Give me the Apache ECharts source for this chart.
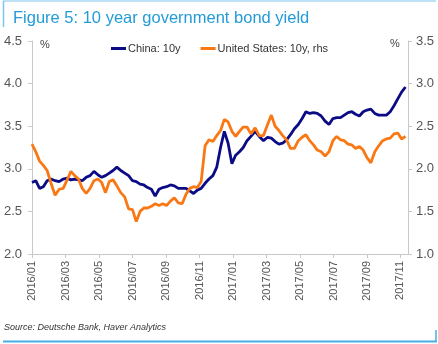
<!DOCTYPE html>
<html><head><meta charset="utf-8">
<script src="https://cdn.jsdelivr.net/npm/echarts@6/dist/echarts.min.js"></script>
<style>html,body{margin:0;padding:0;background:#fff}#c{width:438px;height:344px}</style>
</head><body><div id="c"></div>
<script>
// Weekly observations starting 2016-01-01
const startDate = '2016-01-01';
const weekCount = 98;
const chinaYield = [2.84,2.86,2.77,2.79,2.86,2.88,2.86,2.85,2.88,2.89,2.87,2.88,2.87,2.86,2.90,2.92,2.97,2.93,2.90,2.92,
2.95,2.98,3.02,2.98,2.95,2.92,2.86,2.85,2.82,2.81,2.78,2.76,2.68,2.76,2.78,2.79,2.81,2.80,2.77,2.77,
2.77,2.74,2.71,2.75,2.77,2.83,2.88,2.92,3.02,3.25,3.44,3.30,3.06,3.16,3.20,3.25,3.33,3.38,3.44,3.38,
3.33,3.37,3.36,3.32,3.29,3.30,3.34,3.40,3.47,3.52,3.59,3.67,3.65,3.66,3.65,3.62,3.56,3.52,3.59,3.60,
3.60,3.63,3.66,3.67,3.64,3.62,3.67,3.69,3.70,3.65,3.63,3.63,3.63,3.67,3.74,3.82,3.90,3.96];
const usYield = [2.29,2.20,2.09,2.04,1.98,1.83,1.69,1.76,1.77,1.87,1.97,1.92,1.88,1.77,1.71,1.77,1.86,1.88,1.84,1.72,
1.85,1.87,1.80,1.72,1.67,1.53,1.52,1.38,1.50,1.54,1.54,1.56,1.59,1.57,1.59,1.57,1.62,1.66,1.60,1.59,
1.70,1.77,1.79,1.78,1.85,2.27,2.34,2.32,2.39,2.45,2.58,2.55,2.44,2.38,2.44,2.49,2.49,2.41,2.48,2.39,
2.39,2.52,2.63,2.50,2.45,2.39,2.34,2.24,2.24,2.33,2.37,2.40,2.33,2.28,2.22,2.20,2.15,2.20,2.33,2.38,
2.34,2.33,2.29,2.28,2.24,2.26,2.22,2.13,2.07,2.20,2.27,2.33,2.35,2.36,2.41,2.42,2.35,2.38];
const xTickMonths = [0,2,4,6,8,10,12,14,16,18,20,22];
const leftTicks = [2.0,2.5,3.0,3.5,4.0,4.5];
const rightTicks = [1.0,1.5,2.0,2.5,3.0,3.5];
const seriesNames = ['China: 10y','United States: 10y, rhs'];

// dates and month-index positions
const dates = [];
(function(){
  const d0 = new Date(startDate + 'T00:00:00Z');
  for (let i = 0; i < weekCount; i++) {
    dates.push(new Date(d0.getTime() + i * 7 * 86400000));
  }
})();
function monthIndex(d){
  const y = d.getUTCFullYear(), m = d.getUTCMonth(), day = d.getUTCDate();
  const dim = new Date(Date.UTC(y, m + 1, 0)).getUTCDate();
  return (y - 2016) * 12 + m + (day - 1) / dim;
}
const xs = dates.map(monthIndex);
const chinaData = xs.map((x,i)=>[x, chinaYield[i]]);
const usData = xs.map((x,i)=>[x, usYield[i]]);
function monthLabel(v){
  const y = 2016 + Math.floor(v/12), m = Math.round(v) % 12 + 1;
  return y + '/' + (m < 10 ? '0' + m : m);
}

const chart = echarts.init(document.getElementById('c'), null, {renderer:'canvas'});
const axisColor = '#c8c8c8';
const labelColor = '#555';
const font = 'Liberation Sans, Arial, sans-serif';
chart.setOption({
  animation:false,
  textStyle:{fontFamily:font},
  title:{text:'Figure 5: 10 year government bond yield', left:8, top:5,
    textStyle:{fontSize:16.5, fontWeight:'normal', color:'#239bd8', fontFamily:font}},
  legend:{data:seriesNames, left:106, top:38, itemWidth:15, itemHeight:3, itemGap:20, icon:'rect',
    textStyle:{fontSize:11, color:'#333', fontFamily:font, padding:[0,0,0,-3]}},
  grid:{left:32, right:30, top:41, bottom:90, containLabel:false},
  xAxis:{type:'value', min:0, max:22.45,
    axisLine:{lineStyle:{color:axisColor}},
    axisTick:{show:true, length:4, lineStyle:{color:axisColor}, customValues:xTickMonths},
    axisLabel:{rotate:90, fontSize:11, color:labelColor, margin:7, customValues:xTickMonths, formatter:monthLabel},
    splitLine:{show:false}},
  yAxis:[
    {type:'value', min:2, max:4.5, interval:0.5, position:'left',
      axisLine:{show:true, lineStyle:{color:axisColor}},
      axisTick:{show:true, length:4, lineStyle:{color:axisColor}},
      axisLabel:{fontSize:13, color:labelColor, margin:10, formatter:v=>v.toFixed(1)},
      splitLine:{show:false}},
    {type:'value', min:1, max:3.5, interval:0.5, position:'right',
      axisLine:{show:true, lineStyle:{color:axisColor}},
      axisTick:{show:true, length:4, lineStyle:{color:axisColor}},
      axisLabel:{fontSize:13, color:labelColor, margin:8, formatter:v=>v.toFixed(1)},
      splitLine:{show:false}}
  ],
  series:[
    {name:seriesNames[0], type:'line', data:chinaData, yAxisIndex:0, showSymbol:false, symbol:'none',
      lineStyle:{width:2.8, color:'#0b0b86'}, itemStyle:{color:'#0b0b86'}},
    {name:seriesNames[1], type:'line', data:usData, yAxisIndex:1, showSymbol:false, symbol:'none',
      lineStyle:{width:2.8, color:'#fa7814'}, itemStyle:{color:'#fa7814'}}
  ],
  graphic:[
    {type:'text', left:40, top:39, style:{text:'%', fontSize:11, fill:'#444', fontFamily:font}},
    {type:'text', left:390, top:38, style:{text:'%', fontSize:11, fill:'#444', fontFamily:font}},
    {type:'text', left:4, top:323, style:{text:'Source: Deutsche Bank, Haver Analytics', fontSize:9, fontStyle:'italic', fill:'#333', fontFamily:font}},
    {type:'line', shape:{x1:3, y1:1, x2:436, y2:1}, style:{stroke:'#7cc6ec', lineWidth:1}},
    {type:'line', shape:{x1:3.5, y1:1, x2:3.5, y2:27}, style:{stroke:'#7cc6ec', lineWidth:1.5}},
    {type:'line', shape:{x1:3, y1:341.5, x2:437, y2:341.5}, style:{stroke:'#45aee3', lineWidth:2}},
    {type:'line', shape:{x1:436, y1:330, x2:436, y2:342}, style:{stroke:'#45aee3', lineWidth:1.5}}
  ]
});
</script></body></html>
